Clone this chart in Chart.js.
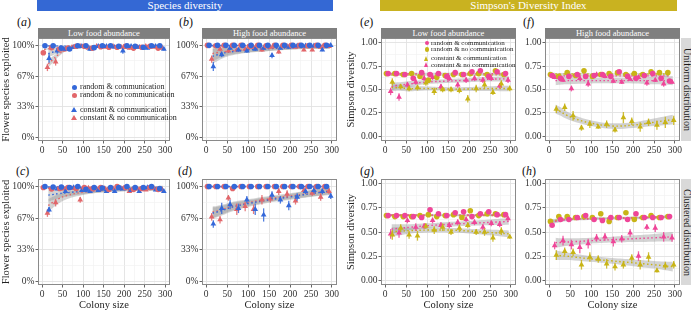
<!DOCTYPE html>
<html>
<head>
<meta charset="utf-8">
<script src="https://cdn.jsdelivr.net/npm/chart.js@4.4.0/dist/chart.umd.min.js"></script>
<style>
  body { margin: 0; width: 691px; height: 310px; overflow: hidden; background: #fff; position: relative;
         font-family: "Liberation Serif", "DejaVu Serif", serif; }
  canvas { position: absolute; }
  .banner { position: absolute; top: 0; height: 11px; line-height: 11px; color: #fff; font-size: 11px; text-align: center; }
  .strip { position: absolute; height: 10px; line-height: 10px; background: #7f7f7f; color: #fff; font-size: 8.5px; text-align: center; }
  .rstrip { position: absolute; width: 12px; background: #d9d9d9; color: #1a1a1a; font-size: 10px;
            writing-mode: vertical-rl; text-align: center; line-height: 12px; }
  .plab { position: absolute; font-size: 12px; color: #111; line-height: 12px; }
  .legend { position: absolute; color: #222; white-space: nowrap; }
  .legend div { position: absolute; left: 0; }
  .mk { position: absolute; }
</style>
</head>
<body>
<div class="banner" style="left:37px;width:296px;background:#3468d4;">Species diversity</div>
<div class="banner" style="left:380px;width:297px;background:#c9b220;">Simpson's Diversity Index</div>

<div class="plab" style="left:17px;top:16px;">(<i>a</i>)</div>
<div class="plab" style="left:179px;top:16px;">(<i>b</i>)</div>
<div class="plab" style="left:360px;top:16px;">(<i>e</i>)</div>
<div class="plab" style="left:523px;top:16px;">(<i>f</i>)</div>
<div class="plab" style="left:16px;top:165px;">(<i>c</i>)</div>
<div class="plab" style="left:178px;top:165px;">(<i>d</i>)</div>
<div class="plab" style="left:360px;top:165px;">(<i>g</i>)</div>
<div class="plab" style="left:522px;top:165px;">(<i>h</i>)</div>

<div class="strip" style="left:38px;top:28px;width:132px;">Low food abundance</div>
<div class="strip" style="left:202px;top:28px;width:135px;">High food abundance</div>
<div class="strip" style="left:381px;top:28px;width:135px;">Low food abundance</div>
<div class="strip" style="left:545px;top:28px;width:135px;">High food abundance</div>
<div class="rstrip" style="left:681px;top:38px;height:103px;">Uniform distribution</div>
<div class="rstrip" style="left:681px;top:179px;height:106px;">Clustered distribution</div>

<script>
// colony sizes
const xRandom = [5, 25, 45, 65, 85, 105, 125, 145, 165, 185, 205, 225, 245, 265, 285];
const xConstant = [15, 35, 55, 75, 95, 115, 135, 155, 175, 195, 215, 235, 255, 275, 295];
const fitXRandom = [5, 15, 30, 50, 100, 150, 200, 250, 285];
const fitXConstant = [15, 25, 40, 60, 100, 150, 200, 250, 295];

// axis ticks
const colonyTicks = [0, 50, 100, 150, 200, 250, 300];
const colonyMinor = [25, 75, 125, 175, 225, 275];
const speciesTicks = [0, 33.33, 66.67, 100];
const speciesLabels = ['0%', '33%', '67%', '100%'];
const speciesMinor = [16.67, 50, 83.33];
const simpsonTicks = [0, 0.25, 0.5, 0.75, 1];
const simpsonLabels = ['0.00', '0.25', '0.50', '0.75', '1.00'];
const simpsonMinor = [0.125, 0.375, 0.625, 0.875];

const legendLabels = ['random & communication', 'random & no communication', 'constant & communication', 'constant & no communication'];

// (a) species, low food, uniform
const aRandComm = [99.5, 99.5, 97, 96, 99.5, 99.5, 97.5, 99.5, 99.5, 99, 99.5, 99, 98, 99.5, 99.5];
const aRandCommErr = [0.5, 0.5, 1.5, 1.5, 0.5, 0.5, 1.5, 0.5, 0.5, 1, 0.5, 1, 1, 0.5, 0.5];
const aRandNo = [92, 97.5, 96, 97, 99, 99, 97, 98.5, 98, 98, 99, 97, 98, 99, 97];
const aRandNoErr = [2.5, 1, 1.5, 1.5, 1, 1, 1.5, 1, 1, 1, 1, 1.5, 1, 1, 1.5];
const aConstComm = [86, 94, 96, 98, 99, 96, 99, 99, 98, 94, 99, 98, 97, 99, 96];
const aConstCommErr = [5, 3, 2, 1.5, 1, 2, 1, 1, 1, 3, 1, 1, 1.5, 1, 1.5];
const aConstNo = [76, 82, 95, 98, 99, 97, 99, 98, 99, 98, 97, 98, 99, 98, 97];
const aConstNoErr = [4, 4, 2, 1, 1, 1.5, 1, 1, 1, 1, 1.5, 1, 1, 1, 1.5];
const aFitRandComm = [99.4, 99.4, 99.3, 99.2, 99.2, 99.2, 99.3, 99.3, 99.3];
const aFitRandNo = [95.5, 96.2, 96.8, 97.4, 98, 98, 98, 98, 98];
const aFitConstComm = [91, 92.5, 94.5, 96.5, 97.8, 98, 98, 98, 97.8];
const aFitConstNo = [80, 84, 90, 95.5, 98, 98.2, 98.2, 98.2, 98];
const aBandRand = [0.8, 0.7, 0.6, 0.5, 0.4, 0.4, 0.4, 0.5, 0.6];
const aBandConst = [4, 3.5, 2.5, 1.5, 1, 1, 1, 1, 1.2];

// (b) species, high food, uniform
const bRandComm = [100, 100, 100, 100, 100, 100, 100, 100, 100, 100, 100, 100, 100, 100, 100];
const bRandCommErr = [0.3, 0.3, 0.3, 0.3, 0.3, 0.3, 0.3, 0.3, 0.3, 0.3, 0.3, 0.3, 0.3, 0.3, 0.3];
const bRandNo = [100, 99.5, 100, 100, 100, 99, 100, 99.5, 100, 100, 100, 100, 99.5, 100, 100];
const bRandNoErr = [0.4, 0.5, 0.4, 0.4, 0.4, 0.8, 0.4, 0.5, 0.4, 0.4, 0.4, 0.4, 0.5, 0.4, 0.4];
const bConstComm = [77, 90, 97, 95, 94, 96, 97, 89, 97, 98, 99.5, 99.5, 99.5, 95, 100];
const bConstCommErr = [5, 3, 2, 2, 2, 2, 1.5, 3, 1.5, 1, 0.5, 0.5, 0.5, 1.5, 0.5];
const bConstNo = [85, 96, 94, 95, 96, 98, 95, 98, 93, 99, 98, 95, 95, 98, 99];
const bConstNoErr = [4, 2, 2, 2, 1.5, 1.5, 2, 1.5, 2, 1, 1, 1.5, 1.5, 1, 1];
const bFitRandComm = [99.9, 99.9, 99.9, 99.9, 99.9, 99.9, 99.9, 99.9, 99.9];
const bFitRandNo = [99.6, 99.6, 99.6, 99.6, 99.6, 99.6, 99.6, 99.6, 99.6];
const bFitConstComm = [88, 89.5, 91.5, 93, 95, 96.5, 97.5, 98.3, 99];
const bFitConstNo = [91, 92, 93, 94, 95.5, 96.5, 97.3, 98, 98.5];
const bBandRand = [0.5, 0.5, 0.4, 0.4, 0.3, 0.3, 0.3, 0.4, 0.5];
const bBandConst = [8, 7, 5.5, 4, 3, 2.5, 2, 2, 2.5];

// (c) species, low food, clustered
const cRandComm = [100, 99.5, 99.5, 99, 100, 97, 99, 98.5, 99, 99, 100, 99, 99, 100, 98];
const cRandCommErr = [0.4, 0.5, 0.5, 0.8, 0.4, 1.5, 0.8, 1, 0.8, 0.8, 0.4, 0.8, 0.8, 0.4, 1];
const cRandNo = [99, 97.5, 98, 99, 98, 99, 98, 99, 97, 100, 99, 97, 98, 99, 97];
const cRandNoErr = [0.8, 1.2, 1, 0.8, 1, 0.8, 1, 0.8, 1.2, 0.4, 0.8, 1.2, 1, 0.8, 1.2];
const cConstComm = [75.5, 97.5, 95, 99, 96, 95, 96, 95, 95, 97.5, 96, 95, 99, 96.5, 95];
const cConstCommErr = [3, 1.5, 2, 1, 1.5, 1.5, 1.5, 1.5, 1.5, 1, 1.5, 1.5, 1, 1.5, 1.5];
const cConstNo = [72, 83, 97.5, 98, 86, 98.5, 97.5, 98, 98, 98, 95, 97.5, 96.5, 98, 96.5];
const cConstNoErr = [4, 4, 1.5, 1, 3, 1, 1, 1, 1, 1, 1.5, 1, 1, 1, 1];
const cFitRandComm = [99.6, 99.5, 99.4, 99.3, 99.2, 99.2, 99.2, 99.2, 99.2];
const cFitRandNo = [98.3, 98.3, 98.3, 98.3, 98.3, 98.3, 98.3, 98.3, 98.3];
const cFitConstComm = [91, 91.5, 92.5, 93.5, 95, 96, 96.8, 97.2, 97.3];
const cFitConstNo = [80, 83, 87, 90.5, 94, 96, 97.3, 98, 98.3];
const cBandRand = [0.7, 0.6, 0.5, 0.5, 0.4, 0.4, 0.4, 0.5, 0.6];
const cBandConst = [7, 6, 5, 4, 3, 2, 2, 2, 2.5];

// (d) species, high food, clustered
const dRandComm = [100, 100, 100, 100, 100, 100, 100, 100, 100, 100, 100, 100, 100, 100, 100];
const dRandCommErr = [0.3, 0.3, 0.3, 0.3, 0.3, 0.3, 0.3, 0.3, 0.3, 0.3, 0.3, 0.3, 0.3, 0.3, 0.3];
const dRandNo = [100, 100, 100, 98, 100, 100, 100, 100, 100, 100, 100, 100, 100, 100, 100];
const dRandNoErr = [0.3, 0.3, 0.3, 1.2, 0.3, 0.3, 0.3, 0.3, 0.3, 0.3, 0.3, 0.3, 0.3, 0.3, 0.3];
const dConstComm = [60.5, 77, 81, 77, 86, 76, 70, 91, 86, 80, 89, 95, 96, 95, 90];
const dConstCommErr = [4, 6, 5, 5, 4, 6, 7, 4, 4, 5, 4, 3, 3, 3, 3];
const dConstNo = [68, 65, 88, 76, 79, 76, 86, 87, 95, 92, 85, 96, 93, 89, 95];
const dConstNoErr = [4, 4, 3, 6, 5, 5, 5, 4, 4, 4, 4, 3, 3, 4, 3];
const dFitRandComm = [100, 100, 100, 100, 100, 100, 100, 100, 100];
const dFitRandNo = [99.8, 99.8, 99.8, 99.8, 99.8, 99.8, 99.8, 99.8, 99.8];
const dFitConstComm = [72, 73, 75, 78, 82, 86, 89, 92.5, 95];
const dFitConstNo = [73, 74, 76, 79, 83, 87, 90, 93, 96];
const dBandRand = [0.3, 0.3, 0.3, 0.3, 0.3, 0.3, 0.3, 0.3, 0.3];
const dBandConst = [6, 5.5, 5, 4.5, 3.5, 3, 3, 3.5, 4];

// (e) Simpson, low food, uniform
const eRandComm = [0.67, 0.67, 0.66, 0.62, 0.68, 0.66, 0.67, 0.64, 0.68, 0.66, 0.69, 0.70, 0.64, 0.69, 0.67];
const eRandCommErr = [0.01, 0.01, 0.01, 0.015, 0.01, 0.01, 0.01, 0.015, 0.01, 0.01, 0.01, 0.01, 0.015, 0.01, 0.01];
const eRandNo = [0.67, 0.67, 0.66, 0.67, 0.64, 0.60, 0.63, 0.65, 0.66, 0.66, 0.67, 0.67, 0.66, 0.70, 0.66];
const eRandNoErr = [0.01, 0.01, 0.01, 0.01, 0.015, 0.02, 0.015, 0.01, 0.01, 0.01, 0.01, 0.01, 0.01, 0.01, 0.01];
const eConstComm = [0.58, 0.53, 0.51, 0.52, 0.57, 0.48, 0.50, 0.50, 0.49, 0.40, 0.51, 0.55, 0.47, 0.56, 0.51];
const eConstCommErr = [0.04, 0.03, 0.03, 0.03, 0.03, 0.04, 0.03, 0.03, 0.03, 0.04, 0.04, 0.04, 0.03, 0.04, 0.03];
const eConstNo = [0.48, 0.42, 0.55, 0.58, 0.62, 0.63, 0.53, 0.62, 0.55, 0.60, 0.62, 0.60, 0.62, 0.54, 0.60];
const eConstNoErr = [0.04, 0.04, 0.03, 0.03, 0.03, 0.03, 0.03, 0.03, 0.03, 0.03, 0.03, 0.03, 0.03, 0.03, 0.03];
const eFitRandComm = [0.67, 0.67, 0.67, 0.67, 0.67, 0.67, 0.67, 0.67, 0.67];
const eFitRandNo = [0.656, 0.656, 0.656, 0.656, 0.656, 0.656, 0.656, 0.656, 0.656];
const eFitConstComm = [0.52, 0.52, 0.515, 0.51, 0.51, 0.505, 0.505, 0.51, 0.51];
const eFitConstNo = [0.53, 0.54, 0.55, 0.56, 0.58, 0.59, 0.60, 0.61, 0.615];
const eBandRand = [0.012, 0.011, 0.01, 0.009, 0.008, 0.008, 0.008, 0.009, 0.011];
const eBandConst = [0.04, 0.035, 0.03, 0.03, 0.022, 0.02, 0.022, 0.025, 0.03];

// (f) Simpson, high food, uniform
const fRandComm = [0.65, 0.62, 0.64, 0.66, 0.64, 0.65, 0.66, 0.64, 0.69, 0.64, 0.62, 0.65, 0.67, 0.62, 0.59];
const fRandCommErr = [0.01, 0.015, 0.01, 0.01, 0.01, 0.01, 0.01, 0.01, 0.01, 0.01, 0.015, 0.01, 0.01, 0.015, 0.015];
const fRandNo = [0.66, 0.64, 0.68, 0.65, 0.70, 0.64, 0.66, 0.67, 0.68, 0.66, 0.67, 0.66, 0.69, 0.68, 0.68];
const fRandNoErr = [0.01, 0.01, 0.01, 0.01, 0.01, 0.01, 0.01, 0.01, 0.01, 0.01, 0.01, 0.01, 0.01, 0.01, 0.01];
const fConstComm = [0.29, 0.31, 0.22, 0.09, 0.13, 0.10, 0.13, 0.07, 0.20, 0.16, 0.10, 0.15, 0.12, 0.15, 0.17];
const fConstCommErr = [0.04, 0.04, 0.05, 0.03, 0.04, 0.02, 0.04, 0.03, 0.06, 0.04, 0.05, 0.04, 0.05, 0.06, 0.05];
const fConstNo = [0.63, 0.60, 0.51, 0.62, 0.56, 0.66, 0.64, 0.59, 0.58, 0.61, 0.63, 0.57, 0.60, 0.56, 0.58];
const fConstNoErr = [0.02, 0.02, 0.03, 0.02, 0.03, 0.02, 0.02, 0.02, 0.02, 0.02, 0.02, 0.03, 0.02, 0.03, 0.02];
const fFitRandComm = [0.645, 0.645, 0.645, 0.645, 0.645, 0.645, 0.645, 0.645, 0.645];
const fFitRandNo = [0.666, 0.666, 0.666, 0.666, 0.666, 0.666, 0.666, 0.666, 0.666];
const fFitConstComm = [0.29, 0.27, 0.23, 0.19, 0.14, 0.11, 0.12, 0.15, 0.18];
const fFitConstNo = [0.595, 0.595, 0.595, 0.595, 0.595, 0.595, 0.595, 0.595, 0.595];
const fBandRand = [0.012, 0.011, 0.01, 0.009, 0.008, 0.008, 0.008, 0.009, 0.011];
const fBandConst = [0.05, 0.045, 0.04, 0.035, 0.03, 0.03, 0.03, 0.04, 0.05];

// (g) Simpson, low food, clustered
const gRandComm = [0.67, 0.67, 0.67, 0.66, 0.65, 0.73, 0.69, 0.67, 0.70, 0.71, 0.66, 0.69, 0.71, 0.68, 0.68];
const gRandCommErr = [0.01, 0.01, 0.01, 0.01, 0.01, 0.01, 0.01, 0.01, 0.01, 0.01, 0.01, 0.01, 0.01, 0.01, 0.01];
const gRandNo = [0.67, 0.66, 0.66, 0.66, 0.67, 0.68, 0.66, 0.67, 0.68, 0.65, 0.72, 0.67, 0.69, 0.69, 0.68];
const gRandNoErr = [0.01, 0.01, 0.01, 0.01, 0.01, 0.01, 0.01, 0.01, 0.01, 0.01, 0.01, 0.01, 0.01, 0.01, 0.01];
const gConstComm = [0.47, 0.54, 0.47, 0.46, 0.56, 0.52, 0.55, 0.50, 0.54, 0.57, 0.50, 0.50, 0.44, 0.51, 0.45];
const gConstCommErr = [0.05, 0.04, 0.04, 0.05, 0.03, 0.04, 0.04, 0.03, 0.04, 0.03, 0.03, 0.04, 0.04, 0.04, 0.02];
const gConstNo = [0.48, 0.49, 0.62, 0.55, 0.56, 0.62, 0.57, 0.57, 0.60, 0.63, 0.60, 0.55, 0.59, 0.58, 0.64];
const gConstNoErr = [0.05, 0.05, 0.03, 0.04, 0.03, 0.03, 0.03, 0.03, 0.03, 0.03, 0.03, 0.03, 0.03, 0.03, 0.02];
const gFitRandComm = [0.676, 0.676, 0.676, 0.676, 0.676, 0.676, 0.676, 0.676, 0.676];
const gFitRandNo = [0.672, 0.672, 0.672, 0.672, 0.672, 0.672, 0.672, 0.672, 0.672];
const gFitConstComm = [0.50, 0.505, 0.51, 0.515, 0.52, 0.52, 0.51, 0.495, 0.48];
const gFitConstNo = [0.53, 0.535, 0.54, 0.55, 0.565, 0.58, 0.59, 0.60, 0.61];
const gBandRand = [0.012, 0.011, 0.01, 0.009, 0.008, 0.008, 0.008, 0.009, 0.011];
const gBandConst = [0.05, 0.045, 0.04, 0.03, 0.025, 0.025, 0.025, 0.03, 0.035];

// (h) Simpson, high food, clustered
const hRandComm = [0.57, 0.63, 0.63, 0.65, 0.67, 0.63, 0.62, 0.65, 0.65, 0.63, 0.69, 0.65, 0.65, 0.65, 0.66];
const hRandCommErr = [0.015, 0.01, 0.01, 0.01, 0.01, 0.01, 0.01, 0.01, 0.01, 0.01, 0.01, 0.01, 0.01, 0.01, 0.01];
const hRandNo = [0.61, 0.66, 0.66, 0.65, 0.66, 0.65, 0.69, 0.61, 0.65, 0.70, 0.63, 0.65, 0.67, 0.65, 0.66];
const hRandNoErr = [0.015, 0.01, 0.01, 0.01, 0.01, 0.01, 0.01, 0.015, 0.01, 0.01, 0.01, 0.01, 0.01, 0.01, 0.01];
const hConstComm = [0.26, 0.30, 0.29, 0.16, 0.24, 0.22, 0.17, 0.14, 0.16, 0.23, 0.16, 0.24, 0.10, 0.15, 0.16];
const hConstCommErr = [0.05, 0.04, 0.04, 0.05, 0.05, 0.04, 0.05, 0.04, 0.04, 0.04, 0.05, 0.05, 0.02, 0.04, 0.04];
const hConstNo = [0.36, 0.41, 0.37, 0.34, 0.38, 0.44, 0.45, 0.40, 0.43, 0.49, 0.25, 0.55, 0.54, 0.45, 0.44];
const hConstNoErr = [0.04, 0.05, 0.05, 0.06, 0.05, 0.04, 0.04, 0.05, 0.04, 0.04, 0.05, 0.03, 0.04, 0.05, 0.04];
const hFitRandComm = [0.60, 0.61, 0.62, 0.63, 0.635, 0.64, 0.645, 0.65, 0.655];
const hFitRandNo = [0.61, 0.62, 0.63, 0.635, 0.64, 0.645, 0.65, 0.655, 0.66];
const hFitConstComm = [0.26, 0.255, 0.25, 0.24, 0.22, 0.20, 0.18, 0.16, 0.14];
const hFitConstNo = [0.39, 0.39, 0.395, 0.40, 0.41, 0.42, 0.43, 0.44, 0.45];
const hBandRand = [0.02, 0.018, 0.015, 0.012, 0.01, 0.01, 0.01, 0.012, 0.015];
const hBandConst = [0.05, 0.045, 0.04, 0.035, 0.03, 0.03, 0.035, 0.04, 0.05];

const FONT = "'Liberation Serif', 'DejaVu Serif', serif";
const BLUE = '#3468d9';
const RED = '#e2666a';
const PINK = '#ef4598';
const GOLD = '#c8b416';
const RIBBON = 'rgba(150, 150, 150, 0.42)';

// error bars drawn right before each point dataset
const errorBars = {
    id: 'errorBars',
    beforeDatasetDraw(chart, args) {
        const ds = chart.data.datasets[args.index];
        if (!ds.errors) return;
        const y = chart.scales.y;
        const ctx = chart.ctx;
        ctx.save();
        ctx.strokeStyle = ds.borderColor;
        ctx.globalAlpha = 0.85;
        ctx.lineWidth = 1.3;
        args.meta.data.forEach((pt, i) => {
            const v = ds.data[i].y, e = ds.errors[i];
            ctx.beginPath();
            ctx.moveTo(pt.x, y.getPixelForValue(v - e));
            ctx.lineTo(pt.x, y.getPixelForValue(v + e));
            ctx.stroke();
        });
        ctx.restore();
    }
};

// ggplot-like panel border
const panelBorder = {
    id: 'panelBorder',
    afterDatasetsDraw(chart) {
        const a = chart.chartArea;
        const ctx = chart.ctx;
        ctx.save();
        ctx.strokeStyle = '#8a8a8a';
        ctx.lineWidth = 1;
        ctx.strokeRect(Math.round(a.left) + 0.5, Math.round(a.top) + 0.5, Math.round(a.right - a.left) - 1, Math.round(a.bottom - a.top) - 1);
        ctx.restore();
    }
};

function seriesSets(xs, dodge, vals, errs, fitX, fit, band, color, shape) {
    return [
        { data: fitX.map((x, i) => ({ x, y: fit[i] + band[i] })), borderWidth: 0, pointRadius: 0, fill: false, tension: 0.4, order: 5 },
        { data: fitX.map((x, i) => ({ x, y: fit[i] - band[i] })), borderWidth: 0, pointRadius: 0, fill: '-1', backgroundColor: RIBBON, tension: 0.4, order: 5 },
        { data: fitX.map((x, i) => ({ x, y: fit[i] })), borderColor: color, borderWidth: 1.4, borderDash: [1.5, 2.5], pointRadius: 0, fill: false, tension: 0.4, order: 3 },
        { data: xs.map((x, i) => ({ x: x + dodge, y: vals[i] })), errors: errs, showLine: false, pointStyle: shape,
          pointRadius: shape === 'circle' ? 2.8 : 3.3, borderWidth: 0, backgroundColor: color, borderColor: color, order: 1 }
    ];
}

function makePanel(p) {
    const PAD_T = 8, PAD_R = 10;
    const canvas = document.createElement('canvas');
    const cw = p.yw + p.w + PAD_R, ch = PAD_T + p.h + p.xh;
    canvas.width = cw;
    canvas.height = ch;
    canvas.style.left = (p.left - p.yw) + 'px';
    canvas.style.top = (p.top - PAD_T) + 'px';
    canvas.style.width = cw + 'px';
    canvas.style.height = ch + 'px';
    document.body.appendChild(canvas);

    const species = p.kind === 'species';
    const yMajor = species ? speciesTicks : simpsonTicks;
    const yMinor = species ? speciesMinor : simpsonMinor;
    const yLabels = species ? speciesLabels : simpsonLabels;
    const c1 = species ? BLUE : PINK, c2 = species ? RED : GOLD;
    const t1 = species ? BLUE : GOLD, t2 = species ? RED : PINK;

    const datasets = [].concat(
        seriesSets(xRandom, 2, p.rc, p.rcErr, fitXRandom, p.fitRc, p.bandR, c1, 'circle'),
        seriesSets(xRandom, -2, p.rn, p.rnErr, fitXRandom, p.fitRn, p.bandR, c2, 'circle'),
        seriesSets(xConstant, 2, p.cc, p.ccErr, fitXConstant, p.fitCc, p.bandC, t1, 'triangle'),
        seriesSets(xConstant, -2, p.cn, p.cnErr, fitXConstant, p.fitCn, p.bandC, t2, 'triangle')
    );

    const isMajor = (list, v) => list.some(m => Math.abs(m - v) < 1e-6);

    new Chart(canvas, {
        type: 'line',
        data: { datasets },
        options: {
            responsive: false,
            animation: false,
            devicePixelRatio: 1,
            layout: { padding: { top: PAD_T, right: PAD_R, left: 0, bottom: 0 } },
            plugins: { legend: { display: false }, tooltip: { enabled: false } },
            scales: {
                x: {
                    type: 'linear', min: -10, max: 312,
                    afterBuildTicks: s => { s.ticks = colonyTicks.concat(colonyMinor).sort((a, b) => a - b).map(v => ({ value: v })); },
                    afterFit: s => { s.height = p.xh; },
                    ticks: { autoSkip: false, maxRotation: 0, padding: 1, color: '#333', font: { family: FONT, size: 9.5 },
                             callback: v => isMajor(colonyTicks, v) ? String(v) : '' },
                    grid: {
                        color: c => isMajor(colonyTicks, c.tick.value) ? '#e2e2e2' : '#f0f0f0',
                        lineWidth: c => isMajor(colonyTicks, c.tick.value) ? 0.9 : 0.6,
                        tickColor: c => isMajor(colonyTicks, c.tick.value) ? '#555' : 'rgba(0,0,0,0)',
                        tickLength: 2.5
                    },
                    border: { display: false },
                    title: { display: p.bottom, text: 'Colony size', color: '#222', padding: 0, font: { family: FONT, size: 10.5 } }
                },
                y: {
                    type: 'linear', min: species ? -4 : -0.05, max: species ? 108 : 1.05,
                    afterBuildTicks: s => { s.ticks = yMajor.concat(yMinor).sort((a, b) => a - b).map(v => ({ value: v })); },
                    afterFit: s => { s.width = p.yw; },
                    ticks: { autoSkip: false, padding: 1, color: '#333', font: { family: FONT, size: 9.5 },
                             callback: v => { const i = yMajor.findIndex(m => Math.abs(m - v) < 1e-6); return i >= 0 ? yLabels[i] : ''; } },
                    grid: {
                        color: c => isMajor(yMajor, c.tick.value) ? '#e2e2e2' : '#f0f0f0',
                        lineWidth: c => isMajor(yMajor, c.tick.value) ? 0.9 : 0.6,
                        tickColor: c => isMajor(yMajor, c.tick.value) ? '#555' : 'rgba(0,0,0,0)',
                        tickLength: 2.5
                    },
                    border: { display: false },
                    title: { display: p.ytitle, text: species ? 'Flower species exploited' : 'Simpson diversity', color: '#222', padding: 0,
                             font: { family: FONT, size: 10.5 } }
                }
            }
        },
        plugins: [errorBars, panelBorder]
    });
}

makePanel({ kind: 'species', left: 38, top: 38, w: 132, h: 103, yw: 38, xh: 13, ytitle: true, bottom: false,
    rc: aRandComm, rcErr: aRandCommErr, rn: aRandNo, rnErr: aRandNoErr, cc: aConstComm, ccErr: aConstCommErr, cn: aConstNo, cnErr: aConstNoErr,
    fitRc: aFitRandComm, fitRn: aFitRandNo, fitCc: aFitConstComm, fitCn: aFitConstNo, bandR: aBandRand, bandC: aBandConst });
makePanel({ kind: 'species', left: 202, top: 38, w: 135, h: 103, yw: 26, xh: 13, ytitle: false, bottom: false,
    rc: bRandComm, rcErr: bRandCommErr, rn: bRandNo, rnErr: bRandNoErr, cc: bConstComm, ccErr: bConstCommErr, cn: bConstNo, cnErr: bConstNoErr,
    fitRc: bFitRandComm, fitRn: bFitRandNo, fitCc: bFitConstComm, fitCn: bFitConstNo, bandR: bBandRand, bandC: bBandConst });
makePanel({ kind: 'species', left: 38, top: 179, w: 132, h: 106, yw: 38, xh: 27, ytitle: true, bottom: true,
    rc: cRandComm, rcErr: cRandCommErr, rn: cRandNo, rnErr: cRandNoErr, cc: cConstComm, ccErr: cConstCommErr, cn: cConstNo, cnErr: cConstNoErr,
    fitRc: cFitRandComm, fitRn: cFitRandNo, fitCc: cFitConstComm, fitCn: cFitConstNo, bandR: cBandRand, bandC: cBandConst });
makePanel({ kind: 'species', left: 202, top: 179, w: 135, h: 106, yw: 26, xh: 27, ytitle: false, bottom: true,
    rc: dRandComm, rcErr: dRandCommErr, rn: dRandNo, rnErr: dRandNoErr, cc: dConstComm, ccErr: dConstCommErr, cn: dConstNo, cnErr: dConstNoErr,
    fitRc: dFitRandComm, fitRn: dFitRandNo, fitCc: dFitConstComm, fitCn: dFitConstNo, bandR: dBandRand, bandC: dBandConst });
makePanel({ kind: 'simpson', left: 381, top: 38, w: 135, h: 103, yw: 36, xh: 13, ytitle: true, bottom: false,
    rc: eRandComm, rcErr: eRandCommErr, rn: eRandNo, rnErr: eRandNoErr, cc: eConstComm, ccErr: eConstCommErr, cn: eConstNo, cnErr: eConstNoErr,
    fitRc: eFitRandComm, fitRn: eFitRandNo, fitCc: eFitConstComm, fitCn: eFitConstNo, bandR: eBandRand, bandC: eBandConst });
makePanel({ kind: 'simpson', left: 545, top: 38, w: 135, h: 103, yw: 25, xh: 13, ytitle: false, bottom: false,
    rc: fRandComm, rcErr: fRandCommErr, rn: fRandNo, rnErr: fRandNoErr, cc: fConstComm, ccErr: fConstCommErr, cn: fConstNo, cnErr: fConstNoErr,
    fitRc: fFitRandComm, fitRn: fFitRandNo, fitCc: fFitConstComm, fitCn: fFitConstNo, bandR: fBandRand, bandC: fBandConst });
makePanel({ kind: 'simpson', left: 381, top: 179, w: 135, h: 106, yw: 36, xh: 27, ytitle: true, bottom: true,
    rc: gRandComm, rcErr: gRandCommErr, rn: gRandNo, rnErr: gRandNoErr, cc: gConstComm, ccErr: gConstCommErr, cn: gConstNo, cnErr: gConstNoErr,
    fitRc: gFitRandComm, fitRn: gFitRandNo, fitCc: gFitConstComm, fitCn: gFitConstNo, bandR: gBandRand, bandC: gBandConst });
makePanel({ kind: 'simpson', left: 545, top: 179, w: 135, h: 106, yw: 25, xh: 27, ytitle: false, bottom: true,
    rc: hRandComm, rcErr: hRandCommErr, rn: hRandNo, rnErr: hRandNoErr, cc: hConstComm, ccErr: hConstCommErr, cn: hConstNo, cnErr: hConstNoErr,
    fitRc: hFitRandComm, fitRn: hFitRandNo, fitCc: hFitConstComm, fitCn: hFitConstNo, bandR: hBandRand, bandC: hBandConst });

// legends inside panels (a) and (e)
function addLegend(left, rows, markerX, textX, size, colors, fontSize) {
    const box = document.createElement('div');
    box.className = 'legend';
    box.style.left = left + 'px';
    box.style.top = '0px';
    box.style.fontSize = fontSize + 'px';
    legendLabels.forEach((label, i) => {
        const shape = i < 2 ? 'circle' : 'triangle';
        const mk = document.createElement('span');
        mk.className = 'mk';
        if (shape === 'circle') {
            mk.style.cssText = `left:${markerX - left - size / 2}px;top:${rows[i] - size / 2}px;width:${size}px;height:${size}px;border-radius:50%;background:${colors[i]};`;
        } else {
            mk.style.cssText = `left:${markerX - left - size / 2 - 0.5}px;top:${rows[i] - size / 2 - 0.5}px;width:0;height:0;` +
                `border-left:${size / 2 + 0.5}px solid transparent;border-right:${size / 2 + 0.5}px solid transparent;border-bottom:${size + 0.5}px solid ${colors[i]};`;
        }
        box.appendChild(mk);
        const tx = document.createElement('div');
        tx.textContent = label;
        tx.style.left = (textX - left) + 'px';
        tx.style.top = (rows[i] - fontSize * 0.6) + 'px';
        tx.style.lineHeight = (fontSize * 1.2) + 'px';
        box.appendChild(tx);
    });
    document.body.appendChild(box);
}
addLegend(70, [87, 95, 110, 118], 74, 80, 5, [BLUE, RED, BLUE, RED], 8);
addLegend(424, [43, 49.5, 58.5, 65], 427, 431, 4.5, [PINK, GOLD, GOLD, PINK], 7);
</script>
</body>
</html>
